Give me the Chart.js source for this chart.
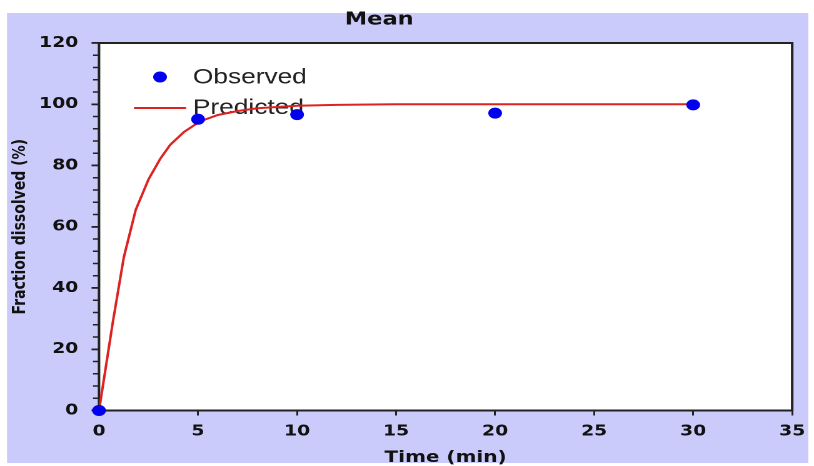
<!DOCTYPE html>
<html>
<head>
<meta charset="utf-8">
<script src="https://cdn.jsdelivr.net/npm/chart.js@4.4.1/dist/chart.umd.min.js"></script>
<style>
  html, body { margin:0; padding:0; width:814px; height:466px; overflow:hidden; background:#fff; }
  #wrap { position:absolute; left:0; top:0; width:651px; height:466px; transform:scaleX(1.25038); transform-origin:0 0; }
  #c { width:651px; height:466px; display:block; }
</style>
</head>
<body>
<div id="wrap"><canvas id="c" width="651" height="466"></canvas></div>
<script>
// ---- data ----
const chartTitle = 'Mean';
const xTitle = 'Time (min)';
const yTitle = 'Fraction dissolved (%)';
const seriesNames = ['Observed', 'Predicted'];

const obsTime  = [0, 5, 10, 20, 30];
const obsValue = [0, 95.1, 96.6, 97.1, 99.8];

const predTime  = [0, 0.7, 1.25, 1.85, 2.5, 3.1, 3.6, 4.3, 5.1, 6, 7, 8, 10, 12, 15, 20, 25, 30];
const predValue = [0, 29, 50, 65.5, 75.5, 82.3, 86.8, 91, 94.4, 96.5, 97.8, 98.7, 99.5, 99.8, 100, 100, 100, 100];

const xMin = 0, xMax = 35, xStep = 5;
const yMin = 0, yMax = 120, yStep = 20, yMinorStep = 4;

// ---- styles ----
const BLUE = '#0000ee';
const RED = '#dd2222';
const LAV = '#cbcbfb';
const INK = '#111111';
const tickFont = { family: 'DejaVu Sans', weight: 'bold', size: 15 };

const decor = {
  id: 'decor',
  beforeDraw(chart) {
    const { ctx, chartArea: a } = chart;
    ctx.save();
    ctx.fillStyle = '#ffffff';
    ctx.fillRect(0, 0, chart.width, chart.height);
    ctx.fillStyle = LAV;
    ctx.fillRect(5.6, 13, 640.8, 450);
    ctx.fillStyle = '#ffffff';
    ctx.fillRect(a.left, a.top, a.right - a.left, a.bottom - a.top);
    ctx.font = 'bold 18px "DejaVu Sans"';
    ctx.fillStyle = INK;
    ctx.textAlign = 'center';
    ctx.textBaseline = 'middle';
    ctx.fillText(chartTitle, 303.3, 20);
    ctx.restore();
  },
  beforeDatasetsDraw(chart) {
    const { ctx, chartArea: a, scales } = chart;
    const ys = scales.y;
    ctx.save();
    // minor ticks on y
    ctx.strokeStyle = '#222';
    ctx.lineWidth = 1.6;
    ctx.beginPath();
    for (let v = yMin + yMinorStep; v < yMax; v += yMinorStep) {
      if (v % yStep === 0) continue;
      const py = ys.getPixelForValue(v);
      ctx.moveTo(a.left - 4.8, py);
      ctx.lineTo(a.left, py);
    }
    ctx.stroke();
    // frame
    ctx.strokeStyle = '#222';
    ctx.lineWidth = 2;
    ctx.strokeRect(a.left, a.top, a.right - a.left, a.bottom - a.top);
    // legend
    const ds = chart.data.datasets;
    ctx.font = '21px "Liberation Sans"';
    ctx.fillStyle = '#222';
    ctx.textAlign = 'left';
    ctx.textBaseline = 'middle';
    ctx.fillText(ds[0].label, 154.3, 77.5);
    ctx.fillText(ds[1].label, 154.3, 108);
    ctx.fillStyle = ds[0].pointBackgroundColor;
    ctx.beginPath();
    ctx.arc(128, 77, 5.5, 0, Math.PI * 2);
    ctx.fill();
    ctx.strokeStyle = ds[1].borderColor;
    ctx.lineWidth = 2;
    ctx.beginPath();
    ctx.moveTo(107.2, 108);
    ctx.lineTo(148.8, 108);
    ctx.stroke();
    ctx.restore();
  }
};

new Chart(document.getElementById('c'), {
  type: 'scatter',
  data: {
    datasets: [
      {
        label: seriesNames[0],
        data: obsTime.map((t, i) => ({ x: t, y: obsValue[i] })),
        showLine: false,
        pointRadius: 5.5,
        pointHoverRadius: 5.5,
        pointBackgroundColor: BLUE,
        pointBorderColor: BLUE,
        pointBorderWidth: 0,
        clip: false
      },
      {
        label: seriesNames[1],
        data: predTime.map((t, i) => ({ x: t, y: predValue[i] })),
        showLine: true,
        borderColor: RED,
        borderWidth: 2,
        borderJoinStyle: 'round',
        pointRadius: 0,
        pointHoverRadius: 0,
        tension: 0,
        fill: false
      }
    ]
  },
  options: {
    responsive: false,
    animation: false,
    devicePixelRatio: 2,
    events: [],
    layout: { padding: { left: 0, top: 43, right: 13.6, bottom: 0 } },
    plugins: { legend: { display: false }, tooltip: { enabled: false }, title: { display: false } },
    scales: {
      x: {
        type: 'linear', position: 'bottom', min: xMin, max: xMax,
        ticks: { stepSize: xStep, padding: 7, font: tickFont, color: INK, maxRotation: 0, autoSkip: false },
        grid: { display: true, drawOnChartArea: false, drawTicks: true, tickLength: 5, color: '#222', lineWidth: 1.5 },
        border: { display: false },
        title: { display: true, text: xTitle, color: INK, font: { family: 'DejaVu Sans', weight: 'bold', size: 16, lineHeight: 1.05 }, padding: { top: 0, bottom: 0 } },
        afterFit(s) { s.height = 55.5; }
      },
      y: {
        type: 'linear', position: 'left', min: yMin, max: yMax,
        ticks: { stepSize: yStep, padding: 10.6, font: tickFont, color: INK },
        grid: { display: true, drawOnChartArea: false, drawTicks: true, tickLength: 6, color: '#222', lineWidth: 1.8 },
        border: { display: false },
        title: { display: true, text: yTitle, color: INK, font: { family: 'DejaVu Sans', weight: 'bold', size: 14, lineHeight: 1.2 }, padding: { top: 8, bottom: 0 } },
        afterFit(s) { s.width = 79.2; }
      }
    }
  },
  plugins: [decor]
});
</script>
</body>
</html>
